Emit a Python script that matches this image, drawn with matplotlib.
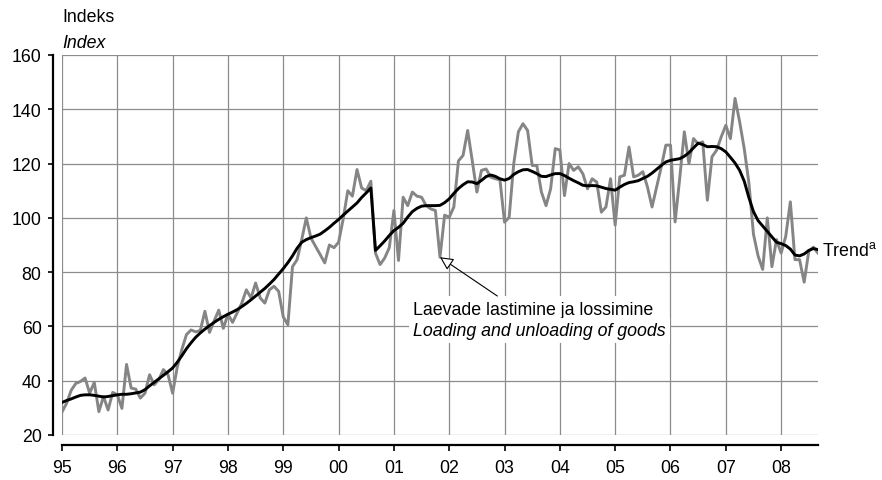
import numpy as np
import pandas as pd
import matplotlib
matplotlib.use("Agg")
import matplotlib.pyplot as plt

plt.rcParams['font.family'] = ['Liberation Sans', 'DejaVu Sans']
plt.rcParams['mathtext.fontset'] = 'custom'
plt.rcParams['mathtext.rm'] = 'Liberation Sans'

FS = 12.8

# ---- data: monthly index, Jan 1995 .. Sep 2008 ----
laadimine = (
    [28.5, 31.7, 36.5, 39, 39.7, 41, 35.4, 39.4, 28.6, 34.2, 29.2, 35.7] +      # 1995
    [34.8, 29.8, 46, 37.3, 36.9, 33.6, 35.4, 42.2, 38.5, 40.4, 44.1, 42.2] +    # 1996
    [35.4, 45, 51.5, 57, 58.7, 58, 58.5, 65.6, 57.8, 62, 66, 59.3] +            # 1997
    [64.5, 61.5, 65, 68.6, 73.5, 70.5, 76, 70.5, 68.6, 73.5, 74.8, 72.9] +      # 1998
    [63.5, 60.6, 82, 84.6, 92, 100, 92.6, 89.5, 86.5, 83.4, 90, 89] +           # 1999
    [91, 99.6, 110, 108, 117.8, 111, 110, 113.5, 87, 82.8, 85.2, 89] +          # 2000
    [102.7, 84.3, 107.6, 104.5, 109.5, 108, 107.6, 104.5, 103.3, 102.7, 85.5, 101] +  # 2001
    [100.2, 104, 121, 123, 132.2, 121, 109.5, 117.5, 118, 115, 114.4, 114] +    # 2002
    [98.4, 100.2, 120, 131.7, 134.7, 132.2, 119.3, 119.3, 109.5, 104.5, 110.7, 125.5] +  # 2003
    [125, 108.2, 120, 117.5, 118.8, 116.2, 110.7, 114.4, 113.2, 102.1, 104, 114.4] +  # 2004
    [97.3, 115.1, 115.7, 126.1, 115.1, 115.7, 117, 111.4, 104, 111.4, 118.8, 126.8] +  # 2005
    [126.8, 98.5, 114.5, 131.7, 120, 129.2, 127.3, 128, 106.5, 122.5, 124.9, 129.8] +  # 2006
    [134.1, 129.2, 144, 135.4, 125.5, 113, 94, 86, 81, 100, 82, 92] +           # 2007
    [87, 93.2, 105.9, 84.6, 84.6, 76.3, 87.7, 89.2, 87]                         # 2008
)

trend = (
    [32, 32.7, 33.3, 34, 34.6, 34.8, 34.8, 34.6, 34.3, 34, 34.2, 34.5] +
    [34.8, 35, 35, 35.2, 35.5, 35.8, 36.7, 38.1, 39.4, 40.7, 42, 43.3] +
    [44.7, 46.8, 49.2, 51.8, 54, 56, 57.6, 59, 60.3, 61.5, 62.6, 63.6] +
    [64.5, 65.3, 66.2, 67.3, 68.5, 69.8, 71.2, 72.6, 74, 75.6, 77.3, 79.3] +
    [81.3, 83.5, 86, 88.8, 91, 92, 92.7, 93.3, 94, 95.2, 96.5, 98] +
    [99.4, 101, 102.5, 104, 105.5, 107.5, 109.2, 111, 88, 89.7, 91.5, 93.5] +
    [95.3, 96.5, 98, 100.3, 102.3, 103.5, 104.3, 104.5, 104.5, 104.5, 104.6, 105.6] +
    [107, 109, 110.8, 112.2, 113.3, 113.2, 112.6, 113.8, 115.2, 115.8, 115.3, 114.4] +
    [113.9, 114.5, 116, 117, 117.7, 117.8, 117.1, 116.3, 115.3, 115.2, 115.8, 116.3] +
    [116.3, 115.6, 114.6, 113.7, 112.9, 112, 111.8, 111.9, 111.8, 111.3, 110.8, 110.5] +
    [110.2, 111.3, 112.3, 113, 113.3, 113.7, 114.5, 115.3, 116.5, 117.9, 119.3, 120.6] +
    [121.2, 121.5, 121.8, 122.7, 124, 125.8, 127.5, 127, 126.2, 126.3, 126.2, 125.5] +
    [124.3, 122.3, 120.2, 117.5, 113.5, 107.5, 102.3, 99, 97, 95, 93, 91] +
    [90.5, 89.8, 88.5, 86.3, 86, 86.7, 88, 88.7, 88.3]
)

kuud = pd.date_range('1995-01-01', periods=len(laadimine), freq='MS')
aeg = kuud.year + (kuud.month - 1) / 12.0

aastad = list(range(1995, 2009))
aasta_sildid = ['95', '96', '97', '98', '99', '00', '01', '02', '03', '04', '05', '06', '07', '08']
y_ticks = [20, 40, 60, 80, 100, 120, 140, 160]

# ---- figure ----
fig = plt.figure(figsize=(8.82, 4.81), dpi=100)
ax = fig.add_axes([62/882, 1-436/481, (818-62)/882, (436-56)/481])

ax.plot(aeg, laadimine, color='#858585', lw=2.1, solid_joinstyle='round', zorder=3)
ax.plot(aeg, trend, color='black', lw=2.1, solid_joinstyle='round', zorder=4)

ax.set_xlim(1995, aeg[-1])
ax.set_ylim(20, 160)
ax.set_xticks(aastad)
ax.set_xticklabels(aasta_sildid)
ax.set_yticks(y_ticks)

ax.grid(True, color='#8c8c8c', lw=0.9)
ax.set_axisbelow(True)

for s in ['top', 'right']:
    ax.spines[s].set_visible(False)
ax.spines['left'].set_position(('outward', 6.8))
ax.spines['bottom'].set_position(('outward', 7.2))
ax.spines['left'].set_linewidth(1.6)
ax.spines['bottom'].set_linewidth(1.6)
ax.tick_params(axis='y', direction='out', length=3.4, width=1.2, pad=4.5, labelsize=FS)
ax.tick_params(axis='x', direction='out', length=4.3, width=1.2, pad=6, labelsize=FS)

fig.text(62/882, 1-18/481, 'Indeks', fontsize=FS, va='center', ha='left')
fig.text(62/882, 1-43/481, 'Index', fontsize=FS, style='italic', va='center', ha='left')

# trend label
ax.text(aeg[-1] + 0.07, trend[-1], 'Trend$^{\\mathrm{a}}$', fontsize=FS,
        va='center', ha='left', clip_on=False)

# annotation with arrow
i_min = 82
ax.annotate('', xy=(aeg[i_min], laadimine[i_min]), xytext=(2002.87, 71.2),
            arrowprops=dict(arrowstyle='-|>', fc='white', ec='black', lw=0.8,
                            mutation_scale=20, shrinkA=0, shrinkB=0), zorder=6)
ax.text(2001.35, 66.4, 'Laevade lastimine ja lossimine', fontsize=FS,
        va='center', ha='left', zorder=5,
        bbox=dict(fc='white', ec='none', pad=3))
ax.text(2001.35, 58.4, 'Loading and unloading of goods', fontsize=FS,
        style='italic', va='center', ha='left', zorder=5,
        bbox=dict(fc='white', ec='none', pad=3))

fig.savefig('out.png', dpi=100)
